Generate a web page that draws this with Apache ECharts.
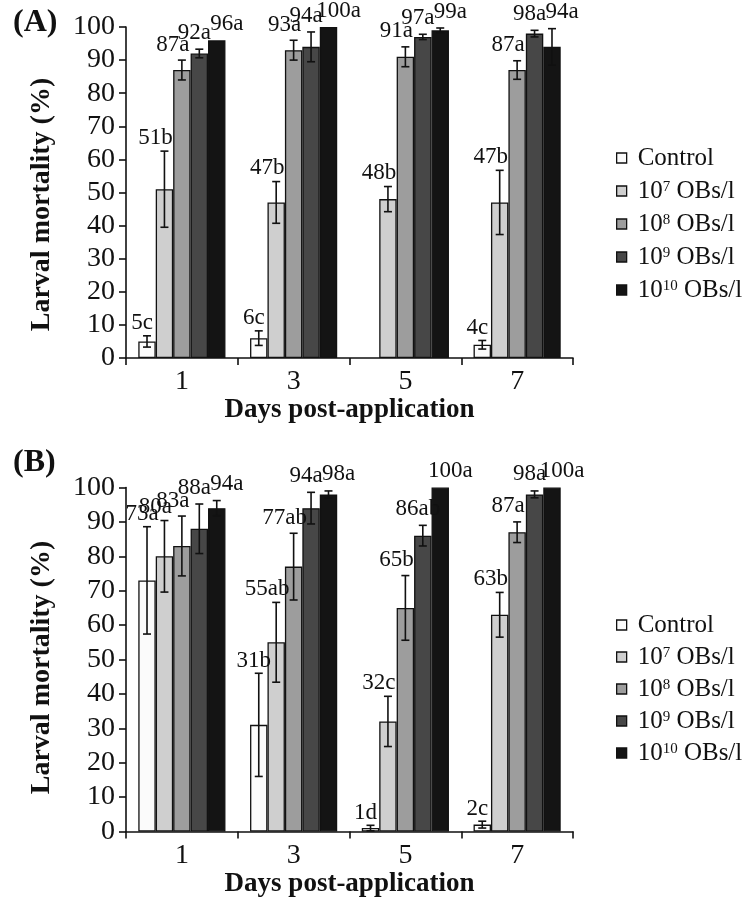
<!DOCTYPE html>
<html><head><meta charset="utf-8">
<script src="https://cdn.jsdelivr.net/npm/echarts@6/dist/echarts.min.js"></script>
<style>html,body{margin:0;padding:0;background:#fff}#c{width:742px;height:899px}</style>
</head><body><div id="c"></div>
<script>
// ---------- DATA ----------
const days = ['1', '3', '5', '7'];
const treatments = ['Control', '10^7 OBs/l', '10^8 OBs/l', '10^9 OBs/l', '10^10 OBs/l'];
const yTicks = [0, 100, 10]; // min, max, interval

// Panel A: mean larval mortality (%) per treatment, for days 1,3,5,7
const aControl = [5, 6, null, 4];
const aE7 = [51, 47, 48, 47];
const aE8 = [87, 93, 91, 87];
const aE9 = [92, 94, 97, 98];
const aE10 = [96, 100, 99, 94];
// Panel A: error (+/-)
const aErrControl = [1.7, 2.2, null, 1.3];
const aErrE7 = [11.5, 6.3, 3.8, 9.7];
const aErrE8 = [3, 3, 3, 2.8];
const aErrE9 = [1.3, 4.5, 0.8, 1];
const aErrE10 = [0, 0, 0.7, 5.5];
// Panel A: significance letters
const aLetControl = ['c', 'c', null, 'c'];
const aLetE7 = ['b', 'b', 'b', 'b'];
const aLetE8 = ['a', 'a', 'a', 'a'];
const aLetE9 = ['a', 'a', 'a', 'a'];
const aLetE10 = ['a', 'a', 'a', 'a'];

// Panel B
const bControl = [73, 31, 1, 2];
const bE7 = [80, 55, 32, 63];
const bE8 = [83, 77, 65, 87];
const bE9 = [88, 94, 86, 98];
const bE10 = [94, 98, 100, 100];
const bErrControl = [15.6, 15, 0.8, 1];
const bErrE7 = [10.4, 11.6, 7.3, 6.5];
const bErrE8 = [8.7, 9.7, 9.4, 3];
const bErrE9 = [7.2, 4.6, 3, 1];
const bErrE10 = [2.2, 1, 0, 0];
const bLetControl = ['a', 'b', 'd', 'c'];
const bLetE7 = ['a', 'ab', 'c', 'b'];
const bLetE8 = ['a', 'ab', 'b', 'a'];
const bLetE9 = ['a', 'a', 'ab', 'a'];
const bLetE10 = ['a', 'a', 'a', 'a'];

// ---------- STYLE ----------
const FONT = 'Liberation Serif';
const colors = ['#fbfbfb', '#cfcfcf', '#9d9d9d', '#474747', '#141414'];
const catGap = 0.22;
const labelDx = [-5, -9, -9, -5, 10];
const labelGap = [1, 2, 4, 5, 5];

const panels = [
  {vals: [aControl, aE7, aE8, aE9, aE10], errs: [aErrControl, aErrE7, aErrE8, aErrE9, aErrE10], lets: [aLetControl, aLetE7, aLetE8, aLetE9, aLetE10]},
  {vals: [bControl, bE7, bE8, bE9, bE10], errs: [bErrControl, bErrE7, bErrE8, bErrE9, bErrE10], lets: [bLetControl, bLetE7, bLetE8, bLetE9, bLetE10]}
];

function makeRender(si, vals, errs, lets) {
  return function (params, api) {
    const i = params.dataIndex;
    const v = vals[i];
    if (v == null) return;
    const e = errs[i] || 0;
    const c = api.coord([i, v]);
    const band = api.size([1, 0])[0];
    const groupW = band * (1 - catGap);
    const bw = groupW / 5;
    const x = c[0] - groupW / 2 + bw * (si + 0.5);
    const children = [];
    let topY = c[1];
    if (e > 0) {
      const hi = api.coord([i, v + e])[1];
      const lo = api.coord([i, v - e])[1];
      const st = {stroke: '#111', lineWidth: 1.6};
      children.push({type: 'line', shape: {x1: x, y1: hi, x2: x, y2: lo}, style: st});
      children.push({type: 'line', shape: {x1: x - 4, y1: hi, x2: x + 4, y2: hi}, style: st});
      children.push({type: 'line', shape: {x1: x - 4, y1: lo, x2: x + 4, y2: lo}, style: st});
      topY = hi;
    }
    children.push({
      type: 'text',
      style: {
        x: x + labelDx[si], y: topY - labelGap[si],
        text: String(v) + lets[i],
        fill: '#111', font: '23px "' + FONT + '"',
        align: 'center', verticalAlign: 'bottom'
      }
    });
    return {type: 'group', children: children};
  };
}

const grids = [
  {left: 126, right: 169, top: 27, height: 331},
  {left: 126, right: 169, top: 487.5, height: 344}
];
const axisLineStyle = {color: '#111', width: 1.6};
const xAxes = [], yAxes = [], series = [];
panels.forEach(function (p, gi) {
  xAxes.push({
    type: 'category', gridIndex: gi, data: days,
    name: 'Days post-application', nameLocation: 'middle', nameGap: 36,
    nameTextStyle: {fontFamily: FONT, fontWeight: 'bold', fontSize: 27, color: '#111'},
    axisLine: {lineStyle: axisLineStyle},
    axisTick: {show: true, length: 7, lineStyle: axisLineStyle},
    axisLabel: {fontFamily: FONT, fontSize: 28, color: '#111', margin: 10}
  });
  yAxes.push({
    type: 'value', gridIndex: gi, min: yTicks[0], max: yTicks[1], interval: yTicks[2],
    name: 'Larval mortality (%)', nameLocation: 'middle', nameGap: 70, nameRotate: 90,
    nameTextStyle: {fontFamily: FONT, fontWeight: 'bold', fontSize: 28, color: '#111', padding: [0, gi === 0 ? 24 : 16, 0, 0]},
    axisLine: {show: true, lineStyle: axisLineStyle},
    axisTick: {show: true, length: 7, lineStyle: axisLineStyle},
    splitLine: {show: false},
    axisLabel: {fontFamily: FONT, fontSize: 28, color: '#111', margin: 11}
  });
  p.vals.forEach(function (arr, si) {
    series.push({
      type: 'bar', name: treatments[si], xAxisIndex: gi, yAxisIndex: gi,
      data: arr, barCategoryGap: (catGap * 100) + '%', barGap: '0%',
      itemStyle: {color: colors[si], borderColor: '#111', borderWidth: 1.3},
      silent: true, animation: false
    });
  });
  p.vals.forEach(function (arr, si) {
    series.push({
      type: 'custom', name: treatments[si], xAxisIndex: gi, yAxisIndex: gi,
      data: arr.map(function (v, i) { return [i, v == null ? 0 : v]; }),
      renderItem: makeRender(si, arr, p.errs[si], p.lets[si]),
      z: 5, silent: true, animation: false
    });
  });
});

function legendFmt(name) {
  const m = name.match(/^10\^(\d+) (.*)$/);
  return m ? '{n|10}{s|' + m[1] + '}{n| ' + m[2] + '}' : '{n|' + name + '}';
}
const legendBase = {
  orient: 'vertical', left: 611, itemWidth: 10, itemHeight: 10, icon: 'rect',
  data: treatments, formatter: legendFmt, selectedMode: false,
  itemStyle: {borderColor: '#111', borderWidth: 1.3},
  textStyle: {
    fontFamily: FONT, fontSize: 25, color: '#111', padding: [0, 0, 0, 6],
    rich: {
      n: {fontFamily: FONT, fontSize: 25, color: '#111', lineHeight: 26, verticalAlign: 'bottom'},
      s: {fontFamily: FONT, fontSize: 15, color: '#111', lineHeight: 26, verticalAlign: 'bottom', padding: [0, 0, 9, 0]}
    }
  }
};

const chart = echarts.init(document.getElementById('c'), null, {renderer: 'canvas'});
chart.setOption({
  backgroundColor: '#fff',
  animation: false,
  title: [
    {text: '(A)', left: 8, top: 2, textStyle: {fontFamily: FONT, fontWeight: 'bold', fontSize: 32, color: '#111'}},
    {text: '(B)', left: 8, top: 442, textStyle: {fontFamily: FONT, fontWeight: 'bold', fontSize: 32, color: '#111'}}
  ],
  legend: [
    Object.assign({}, legendBase, {top: 141, itemGap: 8}),
    Object.assign({}, legendBase, {top: 608, itemGap: 7})
  ],
  grid: grids,
  xAxis: xAxes,
  yAxis: yAxes,
  series: series
});
</script>
</body></html>
